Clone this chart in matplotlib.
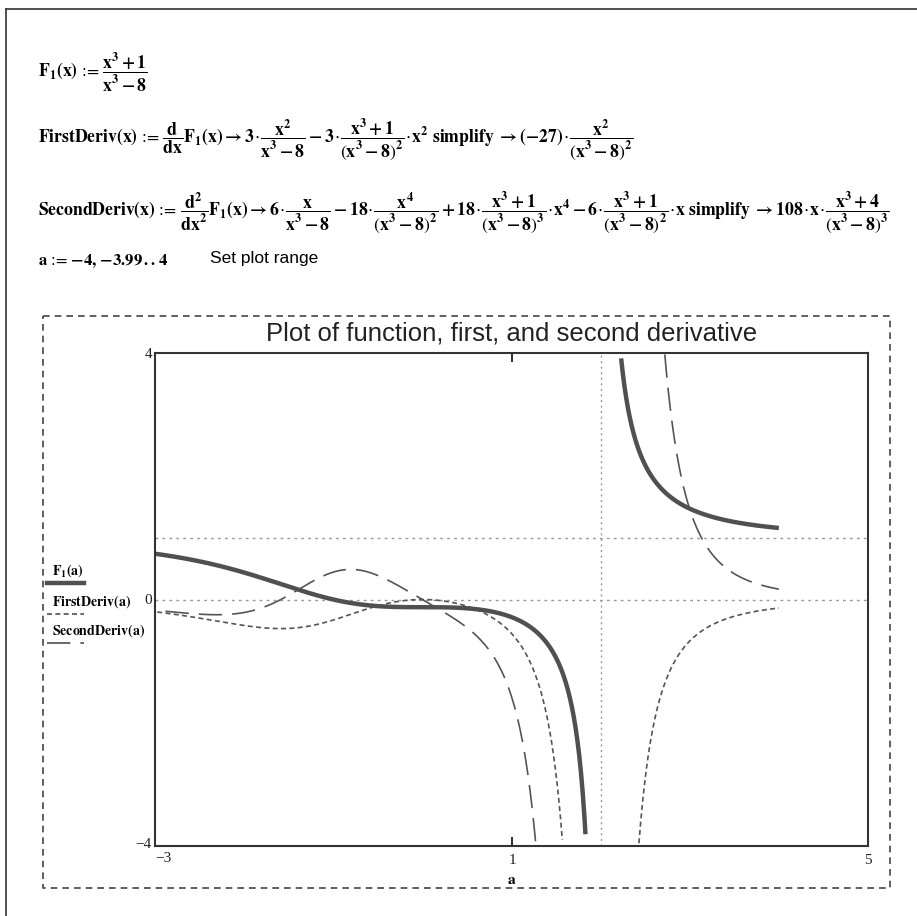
import numpy as np
import matplotlib
matplotlib.use("Agg")
import matplotlib.pyplot as plt
from matplotlib.lines import Line2D

plt.rcParams['mathtext.fontset'] = 'stix'
plt.rcParams['mathtext.default'] = 'bf'

# range variable from the worksheet: a := -4, -3.99 .. 4
a_start, a_step, a_end = -4.0, 0.01, 4.0
a = np.arange(a_start, a_end + a_step / 2, a_step)

# functions as defined on the sheet
F1 = (a**3 + 1) / (a**3 - 8)
first_deriv = -27 * a**2 / (a**3 - 8)**2
second_deriv = 108 * a * (a**3 + 4) / (a**3 - 8)**3

x_lim = (-3, 5)
y_lim = (-4, 4)
x_marker = [2]
y_markers = [1, 0]
series_names = [r'$F_1(a)$', r'$FirstDeriv(a)$', r'$SecondDeriv(a)$']

W, H = 917, 916
fig = plt.figure(figsize=(W / 100, H / 100), dpi=100)

# background axes in pixel coords for the worksheet text
bg = fig.add_axes([0, 0, 1, 1])
bg.set_xlim(0, W)
bg.set_ylim(H, 0)
bg.axis('off')

# window edge (top / left)
bg.plot([6, W], [9, 9], color='#333333', lw=1.2)
bg.plot([6, 6], [9, H], color='#333333', lw=1.2)

D = r'\hspace{0.08}\mathrm{\cdot}\hspace{0.08}'
DEF = r'\text{ := }'
fs = 12.7
bg.text(38, 72, r'$F_1(x)' + DEF + r'\dfrac{x^3+1}{x^3-8}$', fontsize=fs, va='center', ha='left')
bg.text(38, 139,
        r'$FirstDeriv(x)' + DEF + r'\dfrac{d}{dx}F_1(x) \rightarrow 3' + D + r'\dfrac{x^2}{x^3-8} - 3' + D
        + r'\dfrac{x^3+1}{\left(x^3-8\right)^2}' + D + r'x^2\ simplify\ \rightarrow (-27)' + D
        + r'\dfrac{x^2}{\left(x^3-8\right)^2}$',
        fontsize=fs, va='center', ha='left')
bg.text(38, 212,
        r'$SecondDeriv(x)' + DEF + r'\dfrac{d^2}{dx^2}F_1(x) \rightarrow 6' + D + r'\dfrac{x}{x^3-8} - 18' + D
        + r'\dfrac{x^4}{\left(x^3-8\right)^2} + 18' + D + r'\dfrac{x^3+1}{\left(x^3-8\right)^3}' + D
        + r'x^4 - 6' + D + r'\dfrac{x^3+1}{\left(x^3-8\right)^2}' + D + r'x\ simplify\ \rightarrow 108' + D
        + r'x' + D + r'\dfrac{x^3+4}{\left(x^3-8\right)^3}$',
        fontsize=fs, va='center', ha='left')
bg.text(38, 261, r'$a' + DEF + r'{-4},\,{-3.99}\,..\,4$', fontsize=12, va='center', ha='left')
bg.text(210, 259, 'Set plot range', fontsize=12.5, family='Liberation Sans', va='center', ha='left')

# dashed region around the graph
bg.plot([43, 890, 890, 43, 43], [316, 316, 888, 888, 316], color='#444444', lw=1.2,
        dashes=(4, 3))

bg.text(512, 333, 'Plot of function, first, and second derivative', fontsize=18.5,
        family='Liberation Sans', ha='center', va='center', color='#222222')
bg.text(512, 880, r'$a$', fontsize=11, ha='center', va='center')

# legend on the left
leg_y = [571, 602, 631]
leg_styles = [dict(color='#505050', lw=3.2),
              dict(color='#505050', lw=1.2, dashes=(3, 2)),
              dict(color='#505050', lw=1.2, dashes=(14, 6))]
for name, ly, st in zip(series_names, leg_y, leg_styles):
    bg.text(52, ly, name, fontsize=10, ha='left', va='center')
    bg.add_line(Line2D([47, 84], [ly + 12, ly + 12], **st))

# plot axes
L, R, T, B = 155, 868, 353, 846
ax = fig.add_axes([L / W, 1 - B / H, (R - L) / W, (B - T) / H])
ax.set_xlim(*x_lim)
ax.set_ylim(*y_lim)
for s in ax.spines.values():
    s.set_color('#333333')
    s.set_linewidth(1.5)
ax.set_xticks([])
ax.set_yticks([])


def clip(v):
    v = v.copy()
    v[(v < y_lim[0]) | (v > y_lim[1])] = np.nan
    return v


for xm in x_marker:
    ax.axvline(xm, color='#999999', lw=1, dashes=(1.5, 2.5))
for ym in y_markers:
    ax.axhline(ym, color='#999999', lw=1, dashes=(2, 3))

ax.plot(a, clip(second_deriv), color='#555555', lw=1.2, dashes=(14, 6))
ax.plot(a, clip(first_deriv), color='#555555', lw=1.2, dashes=(3, 2))
ax.plot(a, clip(F1), color='#505050', lw=3.2, solid_capstyle='butt')

# tick at x = 1, top and bottom
ax.plot([1, 1], [y_lim[0], y_lim[0] + 0.13], color='#333333', lw=1.5)
ax.plot([1, 1], [y_lim[1], y_lim[1] - 0.13], color='#333333', lw=1.5)

# axis limit labels and marker values
tk = dict(fontsize=11, family='Liberation Serif', color='#222222')
bg.text(L - 3, T + 2, '4', ha='right', va='center', **tk)
bg.text(L - 3, B - 1, '\u22124', ha='right', va='center', **tk)
bg.text(L, B + 12, '\u22123', ha='left', va='center', **tk)
bg.text(512, B + 14, '1', ha='center', va='center', **tk)
bg.text(R, B + 14, '5', ha='center', va='center', **tk)
bg.text(L - 3, 601, '0', ha='right', va='center', **tk)
bg.text(603, T + 10, '2', ha='left', va='center', **tk)
bg.text(R - 2, 538, '1', ha='right', va='center', **tk)
bg.text(R - 2, 601, '0', ha='right', va='center', **tk)

fig.savefig('out.png', dpi=100)
